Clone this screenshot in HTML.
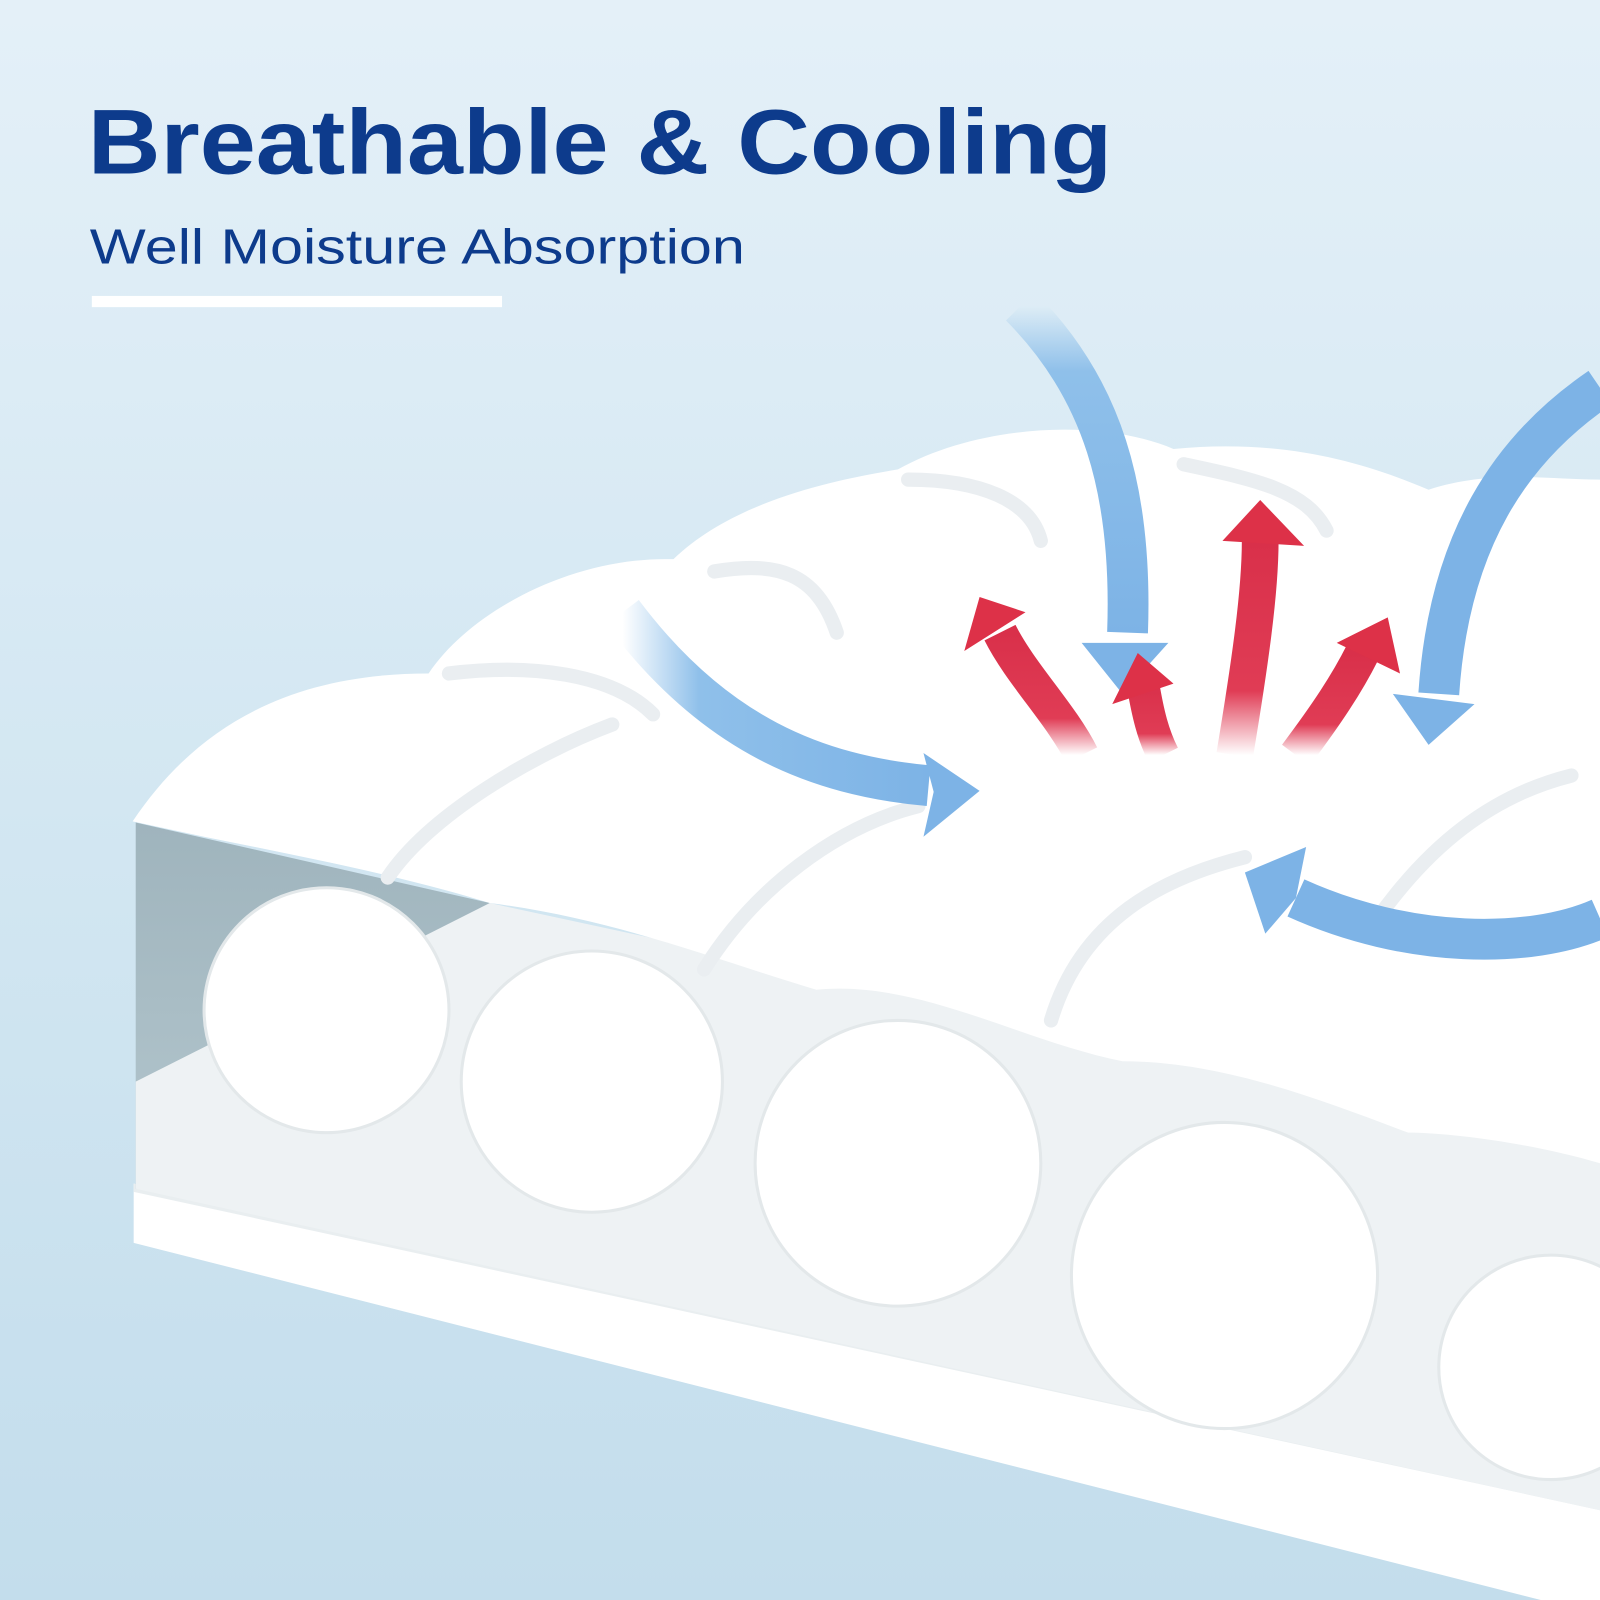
<!DOCTYPE html>
<html><head><meta charset="utf-8"><style>
html,body{margin:0;padding:0;}
body{width:1600px;height:1600px;overflow:hidden;background:linear-gradient(180deg,#e4f0f8 0%,#d3e7f2 50%,#c3ddec 100%);}
svg{position:absolute;left:0;top:0;}
</style></head><body>
<svg width="1600" height="1600" viewBox="0 0 1568 1568" xmlns="http://www.w3.org/2000/svg">
<defs>
<linearGradient id="blueL" x1="0" y1="0" x2="1" y2="0"><stop offset="0" stop-color="#8fc0ea" stop-opacity="0"/><stop offset="0.25" stop-color="#8fc0ea"/><stop offset="1" stop-color="#7db3e6"/></linearGradient>
<linearGradient id="blueT" x1="0" y1="0" x2="0" y2="1"><stop offset="0" stop-color="#8fc0ea" stop-opacity="0"/><stop offset="0.2" stop-color="#8fc0ea"/><stop offset="1" stop-color="#7db3e6"/></linearGradient>
<linearGradient id="red" x1="0" y1="1" x2="0" y2="0"><stop offset="0" stop-color="#e03c55" stop-opacity="0"/><stop offset="0.3" stop-color="#e03c55"/><stop offset="1" stop-color="#d9304a"/></linearGradient>
<linearGradient id="side" x1="0" y1="0" x2="0" y2="1"><stop offset="0" stop-color="#9fb4bd"/><stop offset="1" stop-color="#b3c6cd"/></linearGradient>
</defs>
<text x="86" y="170" font-family="Liberation Sans, sans-serif" font-weight="bold" font-size="90" fill="#0d3b8c" textLength="1004" lengthAdjust="spacingAndGlyphs">Breathable &amp; Cooling</text>
<text x="88" y="258" font-family="Liberation Sans, sans-serif" font-size="48" fill="#0d3b8c" textLength="642" lengthAdjust="spacingAndGlyphs">Well Moisture Absorption</text>
<rect x="90" y="290" width="402" height="11" fill="#ffffff"/>

<!-- bottom slab -->
<polygon points="131,1160 1568,1470 1568,1568 1510,1568 131,1218" fill="#ffffff"/>
<polygon points="131,1160 1568,1470 1568,1480 131,1168" fill="#e9eef0"/>
<!-- grey side -->
<polygon points="133,806 480,885 480,1165 133,1165" fill="url(#side)"/>
<!-- middle layer -->
<polygon points="133,1060 480,885 1568,1120 1568,1480 133,1165" fill="#eef2f4"/>
<g fill="#ffffff" stroke="#e3e8ea" stroke-width="3">
<circle cx="320" cy="990" r="120"/>
<circle cx="580" cy="1060" r="128"/>
<circle cx="880" cy="1140" r="140"/>
<circle cx="1200" cy="1250" r="150"/>
<circle cx="1520" cy="1340" r="110"/>
</g>
<!-- top quilt -->
<path d="M130,805 C200,700 300,660 420,660 C460,600 560,545 660,548 C720,490 820,470 880,460 C960,415 1080,410 1150,440 C1250,430 1330,450 1400,480 C1460,460 1520,470 1568,470 L1568,1140 C1500,1120 1420,1110 1380,1110 C1300,1080 1200,1040 1100,1040 C1000,1020 900,960 800,970 C700,940 600,900 480,885 C400,860 300,840 200,820 Z" fill="#ffffff"/>
<g fill="none" stroke="#eaeef1" stroke-width="14" stroke-linecap="round">
<path d="M380,860 C420,800 520,740 600,710"/>
<path d="M690,950 C740,870 820,810 900,790"/>
<path d="M1030,1000 C1060,900 1140,860 1220,840"/>
<path d="M440,660 C520,650 600,660 640,700"/>
<path d="M700,560 C760,550 800,560 820,620"/>
<path d="M890,470 C960,470 1010,490 1020,530"/>
<path d="M1350,900 C1400,830 1460,780 1540,760"/>
<path d="M1160,455 C1230,470 1280,480 1300,520"/>
</g>

<!-- blue arrows -->
<g>
<path d="M610,600 C700,720 800,760 910,770" fill="none" stroke="url(#blueL)" stroke-width="40"/>
<polygon points="905,738 960,775 905,820 915,776" fill="#7db3e6"/>
<path d="M1000,300 C1080,380 1110,480 1105,620" fill="none" stroke="url(#blueT)" stroke-width="40"/>
<polygon points="1060,630 1145,630 1100,680" fill="#7db3e6"/>
<path d="M1568,380 C1480,440 1420,530 1410,680" fill="none" stroke="#7db3e6" stroke-width="40"/>
<polygon points="1365,680 1445,690 1400,730" fill="#7db3e6"/>
<path d="M1568,900 C1500,930 1380,930 1270,880" fill="none" stroke="#7db3e6" stroke-width="40"/>
<polygon points="1220,855 1280,830 1270,880 1240,915" fill="#7db3e6"/>
</g>
<!-- red arrows -->
<g>
<path d="M1060,740 C1040,700 1000,660 980,620" fill="none" stroke="url(#red)" stroke-width="34"/>
<polygon points="945,638 960,585 1005,600" fill="#dd3148"/>
<path d="M1140,740 C1130,720 1125,700 1120,670" fill="none" stroke="url(#red)" stroke-width="32"/>
<polygon points="1090,690 1115,640 1150,670" fill="#dd3148"/>
<path d="M1210,740 C1225,650 1235,580 1235,530" fill="none" stroke="url(#red)" stroke-width="36"/>
<polygon points="1198,530 1235,490 1278,535" fill="#dd3148"/>
<path d="M1270,740 C1300,700 1320,670 1335,640" fill="none" stroke="url(#red)" stroke-width="34"/>
<polygon points="1310,630 1360,605 1372,660" fill="#dd3148"/>
</g>
</svg>
</body></html>
